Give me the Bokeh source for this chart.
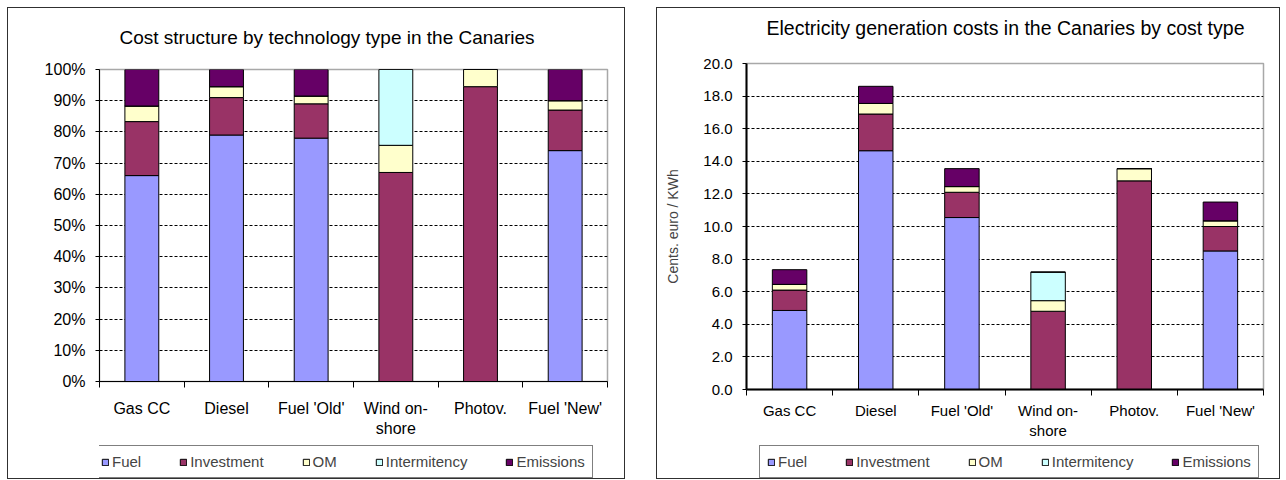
from bokeh.plotting import figure
from bokeh.models import (ColumnDataSource, FixedTicker, PrintfTickFormatter,
                          Legend, LegendItem, Range1d, Title)
from bokeh.layouts import row, column
from bokeh.embed import file_html
from bokeh.resources import INLINE

# ---------------- data ----------------
categories = ["Gas CC", "Diesel", "Fuel 'Old'", "Wind on-\nshore", "Photov.", "Fuel 'New'"]
series = ["Fuel", "Investment", "OM", "Intermitency", "Emissions"]
colors = ["#9999FF", "#993366", "#FFFFCC", "#CCFFFF", "#660066"]

# Left chart: cost structure (% of total)
share_fuel = [66.0, 79.0, 78.0, 0.0, 0.0, 74.0]
share_investment = [17.3, 12.0, 11.0, 67.0, 94.5, 13.0]
share_om = [5.0, 3.5, 2.5, 8.7, 5.5, 3.0]
share_intermitency = [0.0, 0.0, 0.0, 24.3, 0.0, 0.0]
share_emissions = [11.7, 5.5, 8.5, 0.0, 0.0, 10.0]

# Right chart: generation costs (cents euro / kWh)
cost_fuel = [4.85, 14.65, 10.55, 0.0, 0.0, 8.5]
cost_investment = [1.25, 2.25, 1.55, 4.8, 12.8, 1.5]
cost_om = [0.35, 0.65, 0.35, 0.65, 0.75, 0.35]
cost_intermitency = [0.0, 0.0, 0.0, 1.75, 0.0, 0.0]
cost_emissions = [0.9, 1.05, 1.1, 0.0, 0.0, 1.15]

pct_ticks = [0, 10, 20, 30, 40, 50, 60, 70, 80, 90, 100]
cost_ticks = [0, 2, 4, 6, 8, 10, 12, 14, 16, 18, 20]

FONT = "Liberation Sans"


def make_chart(title, values, ymax, yticks, yfmt, width, height, leg_height, borders,
               tick_font, title_font, title_gap, legend_font, legend_loc, legend_spacing,
               axis_w, ylabel=None, x_standoff=12):
    n = len(categories)
    centers = [i + 0.5 for i in range(n)]
    bounds = [float(i) for i in range(n + 1)]
    data = {"x": centers}
    for s, v in zip(series, values):
        data[s] = v
    src = ColumnDataSource(data)

    bl, br, bt, bb = borders
    p = figure(width=width, height=height, x_range=Range1d(0, n),
               y_range=Range1d(0, ymax), output_backend="svg", title=None,
               toolbar_location=None, min_border_left=bl, min_border_right=br,
               min_border_top=bt, min_border_bottom=bb)

    # spacer between frame and title, then the title itself
    p.add_layout(Title(text=" ", text_font_size="1px", standoff=title_gap), "above")
    p.add_layout(Title(text=title, align="left", offset=20, text_font=FONT,
                       text_font_size=title_font, text_font_style="normal",
                       text_color="black", standoff=10), "above")

    p.vbar_stack(series, x="x", width=0.4, source=src, fill_color=colors,
                 line_color="black", line_width=1)

    p.xgrid.grid_line_color = None
    p.ygrid.grid_line_color = "black"
    p.ygrid.grid_line_dash = "3 2"
    p.ygrid.grid_line_width = 1
    p.outline_line_color = "#a8a8a8"
    p.outline_line_width = 1.5

    # y axis
    ya = p.yaxis[0]
    ya.ticker = FixedTicker(ticks=yticks)
    ya.formatter = PrintfTickFormatter(format=yfmt)
    ya.axis_line_color = "black"
    ya.axis_line_width = axis_w
    ya.major_tick_line_color = "black"
    ya.major_tick_out = 4
    ya.major_tick_in = 0
    ya.minor_tick_line_color = None
    ya.major_label_text_font = FONT
    ya.major_label_text_font_size = tick_font
    ya.major_label_text_color = "black"
    ya.major_label_standoff = 10
    if ylabel:
        ya.axis_label = ylabel
        ya.axis_label_text_font = FONT
        ya.axis_label_text_font_size = "14px"
        ya.axis_label_text_font_style = "normal"
        ya.axis_label_standoff = 19

    # x axis: labels at category centres, ticks at category boundaries
    xa = p.xaxis[0]
    xa.ticker = FixedTicker(ticks=centers, minor_ticks=bounds)
    xa.major_label_overrides = {c: lab for c, lab in zip(centers, categories)}
    xa.axis_line_color = "black"
    xa.axis_line_width = axis_w
    xa.major_tick_line_color = None
    xa.major_tick_out = 6
    xa.major_tick_in = 0
    xa.minor_tick_line_color = "black"
    xa.minor_tick_out = 6
    xa.minor_tick_in = 0
    xa.major_label_text_font = FONT
    xa.major_label_text_font_size = tick_font
    xa.major_label_text_color = "black"
    xa.major_label_standoff = x_standoff

    # legend strip below the chart (same series; its own glyphs are hidden)
    pl = figure(width=width, height=leg_height, x_range=Range1d(0, n),
                y_range=Range1d(0, ymax), output_backend="svg",
                toolbar_location=None, x_axis_type=None, y_axis_type=None,
                min_border=0)
    pl.outline_line_color = None
    pl.grid.visible = False
    rl = pl.vbar_stack(series, x="x", width=0.4, source=src, fill_color=colors,
                       line_color="black", line_width=1)
    for r in rl:
        r.visible = False
    items = [LegendItem(label=s, renderers=[r]) for s, r in zip(series, rl)]
    leg = Legend(items=items, orientation="horizontal", location=legend_loc,
                 border_line_color="black", border_line_width=1,
                 glyph_width=8, glyph_height=8, label_standoff=3,
                 spacing=legend_spacing, padding=7, margin=0,
                 label_text_font=FONT, label_text_font_size=legend_font,
                 background_fill_alpha=1.0, inactive_fill_alpha=0.0,
                 click_policy="none")
    pl.add_layout(leg, "center")

    c = column(p, pl, spacing=0)
    c.styles = {"border": "1px solid #303030"}
    return c


c1 = make_chart("Cost structure by technology type in the Canaries",
                [share_fuel, share_investment, share_om, share_intermitency, share_emissions],
                100, pct_ticks, "%d%%", 616, 432, 38, (91, 17, 61, 59),
                "16px", "19px", 14, "15px", (-6, 0), 38, 1)
c2 = make_chart("Electricity generation costs in the Canaries by cost type",
                [cost_fuel, cost_investment, cost_om, cost_intermitency, cost_emissions],
                20, cost_ticks, "%.1f", 622, 433, 37, (89, 16, 55, 52),
                "15px", "19.5px", 17, "15px", (13, 0), 38, 2,
                ylabel="Cents. euro / KWh", x_standoff=6)

layout = row(c1, c2, spacing=31, margin=(7, 0, 0, 7))
open("out.html", "w").write(file_html(layout, INLINE))
